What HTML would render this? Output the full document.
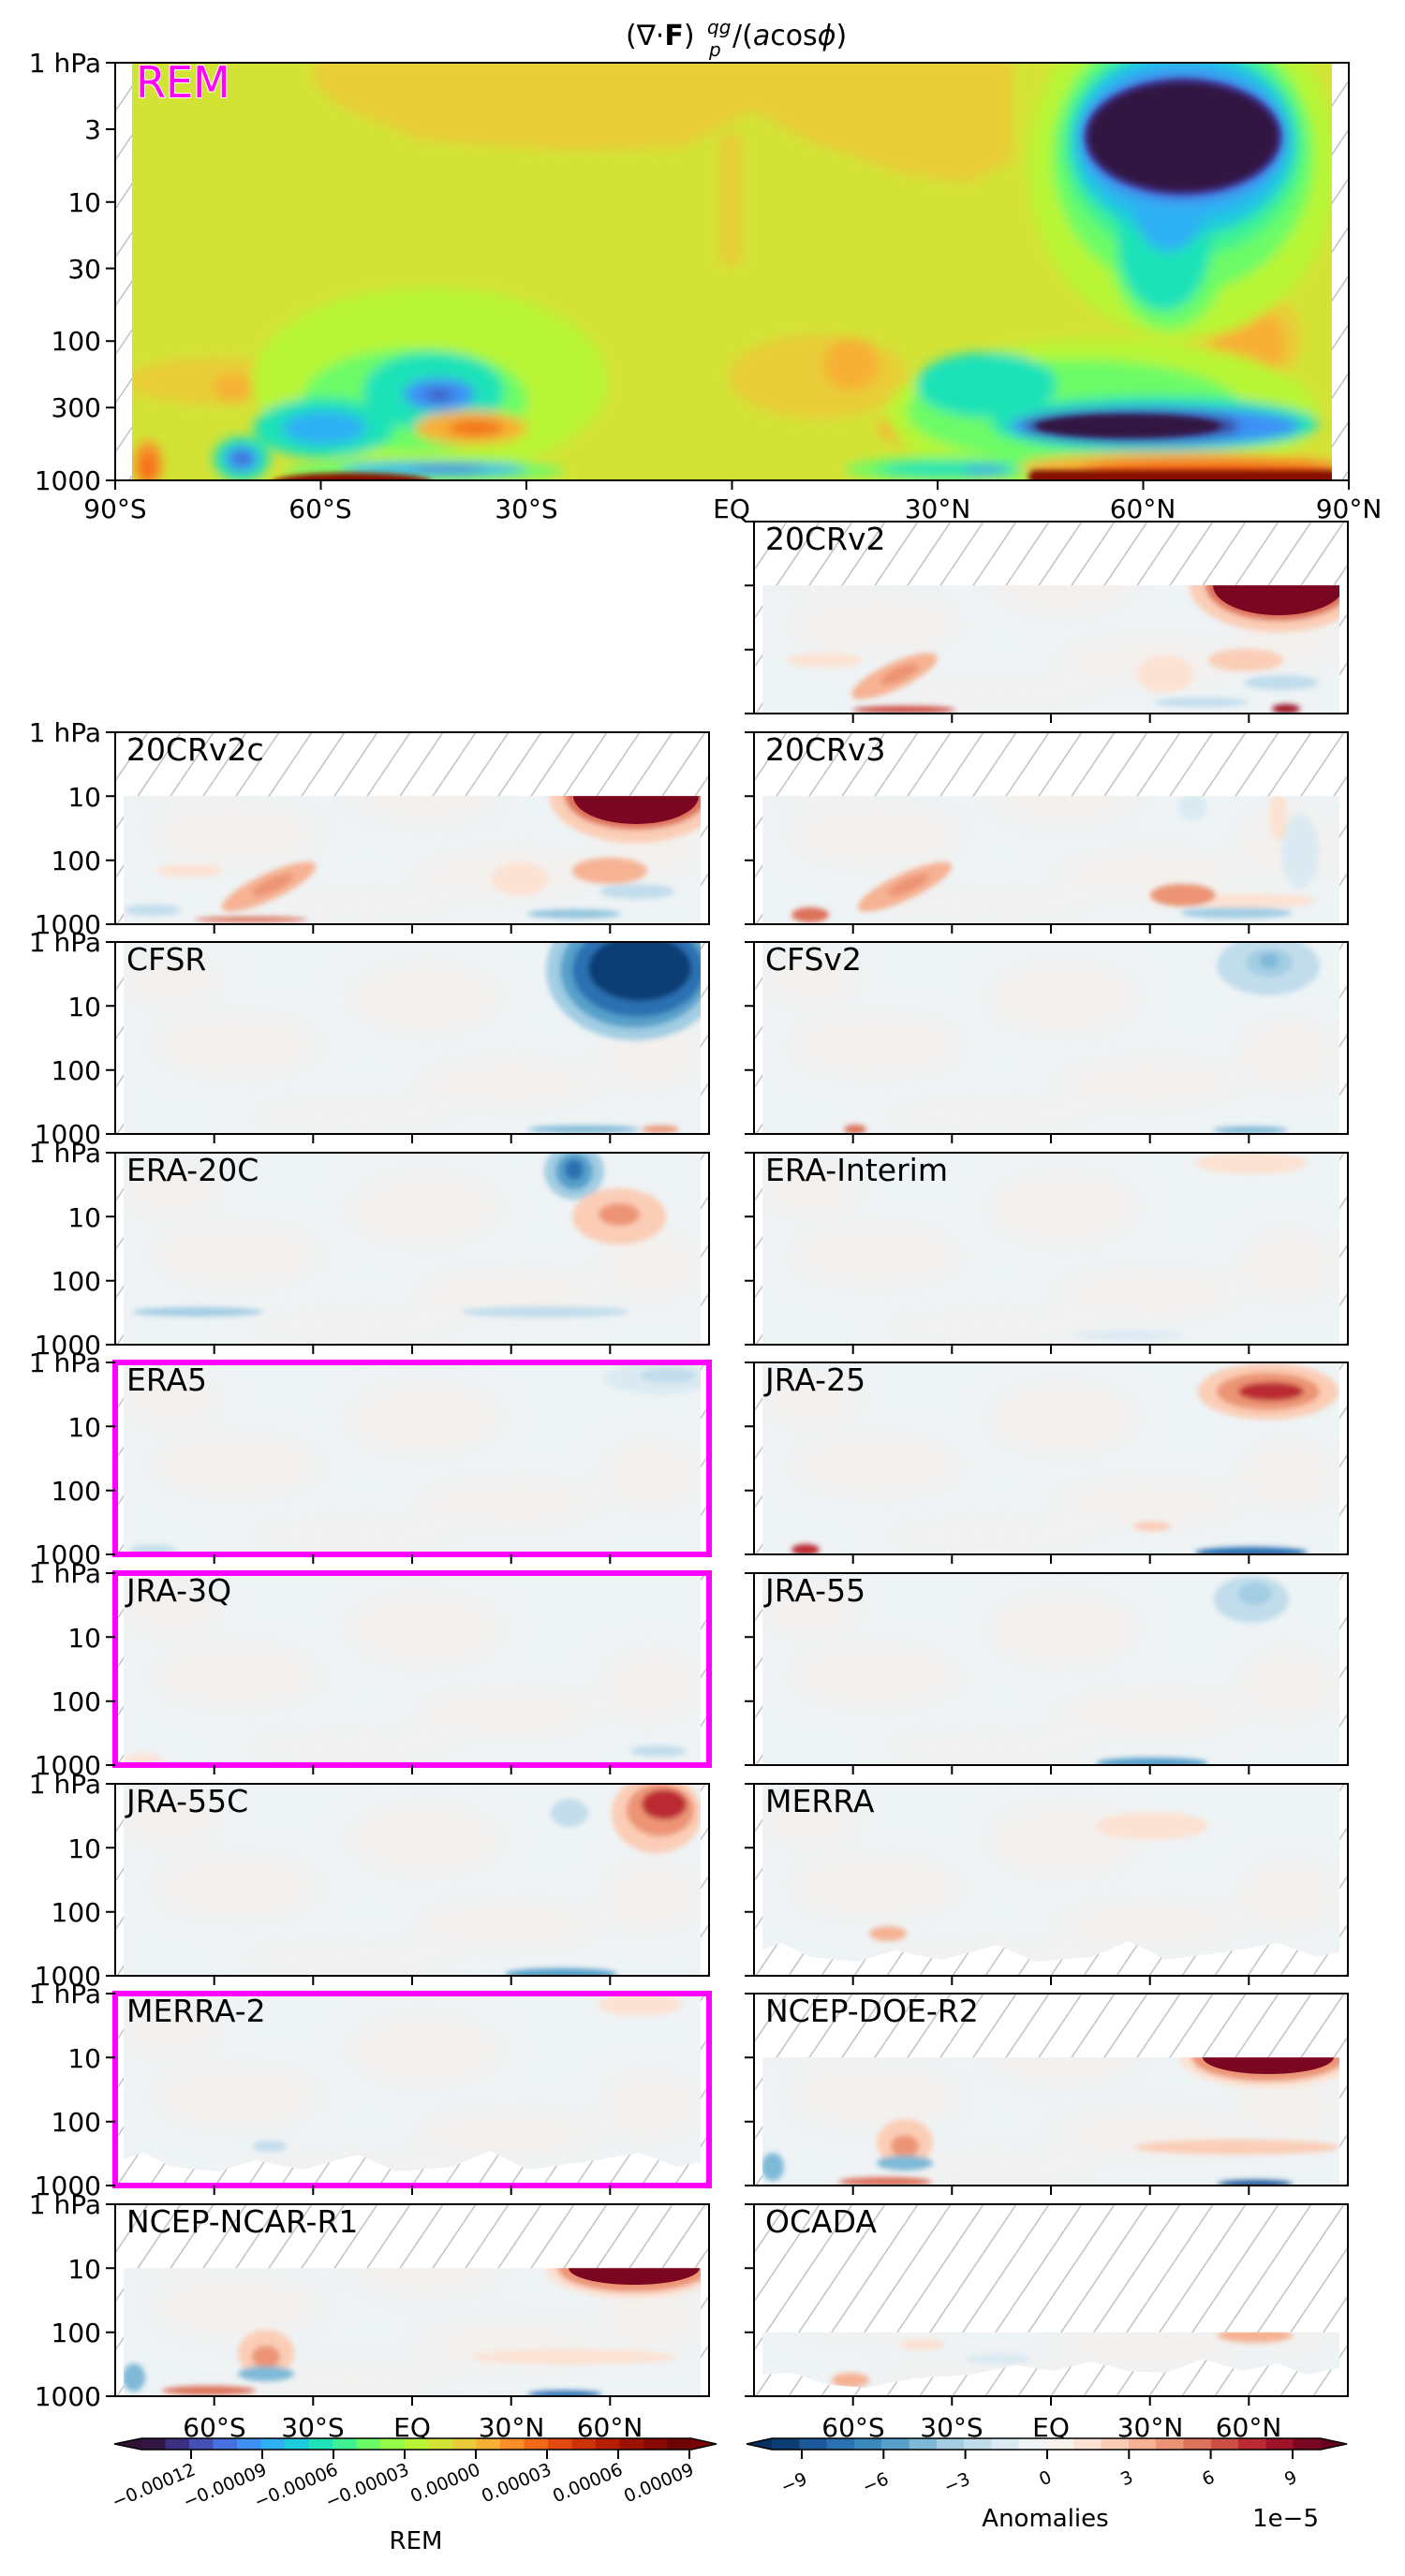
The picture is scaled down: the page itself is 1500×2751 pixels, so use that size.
<!DOCTYPE html>
<html><head><meta charset="utf-8"><style>
html,body{margin:0;padding:0;background:#fff;width:1500px;height:2751px;overflow:hidden}
svg text{font-family:"DejaVu Sans","Liberation Sans",sans-serif;fill:#000}
</style></head><body>
<svg width="1500" height="2751" viewBox="0 0 1500 2751" xmlns="http://www.w3.org/2000/svg">
<defs>
<pattern id="h" patternUnits="userSpaceOnUse" width="35" height="52"><rect width="35" height="52" fill="#fff"/><path d="M0 52L35 0M-35 52L0 0M35 52L70 0" stroke="#c4c4c4" stroke-width="1.6"/></pattern>
<filter id="f" x="-30%" y="-30%" width="160%" height="160%"><feGaussianBlur stdDeviation="3"/></filter>
<filter id="t" x="-30%" y="-30%" width="160%" height="160%"><feGaussianBlur stdDeviation="6"/></filter>
<filter id="g" x="-30%" y="-30%" width="160%" height="160%"><feGaussianBlur stdDeviation="14"/></filter>
<clipPath id="c1"><rect x="9" y="0" width="616" height="205"/></clipPath>
<clipPath id="c10"><rect x="9" y="68.3" width="616" height="137"/></clipPath>
<clipPath id="coc"><polygon points="9,136.7 625,136.7 625,175 590,182 560,170 520,178 480,165 440,180 400,178 360,168 320,178 280,172 230,182 170,186 120,196 80,193 40,180 9,182"/></clipPath>
<clipPath id="ctop"><rect x="18" y="0" width="1281" height="446"/></clipPath>
<g id="pk" filter="url(#g)" fill="#f6efea" opacity="0.8">
<ellipse cx="130" cy="110" rx="90" ry="30"/><ellipse cx="330" cy="60" rx="80" ry="35"/><ellipse cx="420" cy="150" rx="100" ry="22"/><ellipse cx="250" cy="185" rx="120" ry="10"/><ellipse cx="570" cy="120" rx="50" ry="35"/><ellipse cx="60" cy="40" rx="50" ry="25"/>
</g>
<path id="tk" d="M0 0h-10M0 68.3h-10M0 136.7h-10M0 205h-10M105.7 205v10M211.3 205v10M317 205v10M422.7 205v10M528.3 205v10" stroke="#000" stroke-width="2" fill="none"/>
<polygon id="jag" points="0,205 0,180 30,170 60,185 110,190 150,178 200,188 260,172 300,190 360,185 400,168 440,188 500,180 560,170 600,185 634,178 634,205" fill="url(#h)"/>
</defs>

<!-- Title -->
<text x="668" y="48" font-size="30">(∇·<tspan font-weight="bold">F</tspan>)</text>
<text x="755" y="36" font-size="20" font-style="italic">qg</text>
<text x="757" y="60" font-size="20" font-style="italic">p</text>
<text x="782" y="48" font-size="30">/(<tspan font-style="italic">a</tspan>cos<tspan font-style="italic">ϕ</tspan>)</text>

<!-- TOP PANEL -->
<g transform="translate(123,67)">
<svg width="1317" height="446" overflow="hidden">
<rect width="1317" height="446" fill="url(#h)"/>
<g clip-path="url(#ctop)">
<rect x="18" y="0" width="1281" height="446" fill="#d3e336"/>
<g filter="url(#t)">
<polygon points="212,-5 958,-5 958,104 910,129 843,119 738,83 681,51 633,76 604,90 489,94 327,83 241,47 212,22" fill="#e9cd38"/>
<rect x="645" y="76" width="24" height="140" fill="#e9cd38"/>
<ellipse cx="1207" cy="294" rx="60" ry="55" fill="#e9cd38"/>
<ellipse cx="1210" cy="300" rx="40" ry="40" fill="#f7b034"/>
<ellipse cx="750" cy="335" rx="95" ry="45" fill="#e9cd38"/>
<ellipse cx="786" cy="322" rx="30" ry="28" fill="#f7b034"/>
<ellipse cx="110" cy="340" rx="100" ry="25" fill="#e9cd38"/>
<ellipse cx="126" cy="347" rx="20" ry="15" fill="#f7b034"/>
<ellipse cx="336" cy="340" rx="190" ry="100" fill="#b8f535"/>
<ellipse cx="320" cy="360" rx="120" ry="55" fill="#6cfb66"/>
<ellipse cx="340" cy="351" rx="75" ry="42" fill="#1fe2b8"/>
<ellipse cx="346" cy="354" rx="38" ry="17" fill="#3e90f8"/>
<ellipse cx="346" cy="355" rx="15" ry="6" fill="#4450b3"/>
<ellipse cx="223" cy="390" rx="75" ry="32" fill="#1fe2b8"/>
<ellipse cx="223" cy="390" rx="45" ry="18" fill="#2db0f4"/>
<ellipse cx="380" cy="390" rx="60" ry="18" fill="#f7b034"/>
<ellipse cx="385" cy="390" rx="30" ry="8" fill="#f36a19"/>
<ellipse cx="855" cy="390" rx="40" ry="18" fill="#f7b034"/>
<ellipse cx="1054" cy="375" rx="230" ry="80" fill="#b8f535"/>
<ellipse cx="1025" cy="372" rx="180" ry="55" fill="#6cfb66"/>
<ellipse cx="930" cy="344" rx="75" ry="35" fill="#1fe2b8"/>
<ellipse cx="1110" cy="386" rx="175" ry="30" fill="#1fe2b8"/>
<ellipse cx="1110" cy="388" rx="155" ry="21" fill="#3e90f8"/>
<ellipse cx="1085" cy="388" rx="115" ry="16" fill="#3b2f80"/>
<ellipse cx="890" cy="434" rx="110" ry="14" fill="#6cfb66"/>
<ellipse cx="890" cy="434" rx="75" ry="8" fill="#1fe2b8"/>
<ellipse cx="930" cy="435" rx="25" ry="4" fill="#3e90f8"/>
<ellipse cx="330" cy="436" rx="150" ry="12" fill="#6cfb66"/>
<ellipse cx="340" cy="434" rx="100" ry="7" fill="#2db0f4"/>
<ellipse cx="355" cy="434" rx="40" ry="4" fill="#4770df"/>
<ellipse cx="135" cy="423" rx="30" ry="24" fill="#1fe2b8"/>
<ellipse cx="135" cy="423" rx="18" ry="14" fill="#3e90f8"/>
<ellipse cx="135" cy="423" rx="8" ry="5" fill="#4450b3"/>
<ellipse cx="1140" cy="432" rx="175" ry="16" fill="#f7b034"/>
<ellipse cx="1170" cy="435" rx="140" ry="11" fill="#f36a19"/>
<ellipse cx="35" cy="429" rx="15" ry="25" fill="#fb8e27"/>
<ellipse cx="35" cy="432" rx="8" ry="14" fill="#f36a19"/>
<ellipse cx="1140" cy="110" rx="165" ry="185" fill="#b8f535"/>
<ellipse cx="1140" cy="100" rx="140" ry="145" fill="#6cfb66"/>
<ellipse cx="1125" cy="190" rx="65" ry="95" fill="#6cfb66"/>
<ellipse cx="1140" cy="90" rx="128" ry="118" fill="#3ef192"/>
<ellipse cx="1120" cy="190" rx="50" ry="75" fill="#1fe2b8"/>
<ellipse cx="1140" cy="85" rx="120" ry="100" fill="#1dcbdc"/>
<ellipse cx="1140" cy="82" rx="112" ry="85" fill="#2db0f4"/>
<ellipse cx="1125" cy="150" rx="38" ry="52" fill="#2db0f4"/>
<ellipse cx="1140" cy="80" rx="108" ry="68" fill="#4770df"/>
</g>
<g filter="url(#f)">
<ellipse cx="1140" cy="79" rx="105" ry="62" fill="#3b2f80"/>
<ellipse cx="1140" cy="79" rx="100" ry="57" fill="#311542"/>
<ellipse cx="1081" cy="388" rx="98" ry="12" fill="#311542"/>
<rect x="975" y="435" width="330" height="15" rx="8" fill="#860902"/>
<ellipse cx="253" cy="448" rx="85" ry="10" fill="#860902"/>
</g>
</g>
</svg>
<rect width="1317" height="446" fill="none" stroke="#000" stroke-width="2"/>
<path d="M0 0h-10M0 71h-10M0 148.7h-10M0 219.6h-10M0 297.3h-10M0 368.3h-10M0 446h-10M0 446v10M219.5 446v10M439 446v10M658.5 446v10M878 446v10M1097.5 446v10M1317 446v10" stroke="#000" stroke-width="2"/>
<text x="22" y="37" font-size="46" stroke="#fff" stroke-width="2" paint-order="stroke" style="fill:#ff00ff">REM</text>
</g>
<g font-size="28" text-anchor="end">
<text x="108" y="77">1 hPa</text><text x="108" y="148">3</text><text x="108" y="226">10</text><text x="108" y="297">30</text><text x="108" y="374">100</text><text x="108" y="445">300</text><text x="108" y="523">1000</text>
</g>
<g font-size="28" text-anchor="middle">
<text x="123" y="553">90°S</text><text x="342" y="553">60°S</text><text x="562" y="553">30°S</text><text x="781" y="553">EQ</text><text x="1001" y="553">30°N</text><text x="1220" y="553">60°N</text><text x="1440" y="553">90°N</text>
</g>

<!-- ROW 0 right: 20CRv2 -->
<g transform="translate(805,557)">
<svg width="634" height="205" overflow="hidden"><rect width="634" height="205" fill="url(#h)"/>
<g clip-path="url(#c10)"><rect width="634" height="205" fill="#eef3f5"/><use href="#pk"/>
<g filter="url(#f)">
<ellipse cx="560" cy="68" rx="95" ry="50" fill="#fbcdb6"/><ellipse cx="560" cy="68" rx="78" ry="38" fill="#dd715a"/>
<ellipse cx="150" cy="165" rx="50" ry="14" fill="#f6b293" transform="rotate(-25 150 165)"/><ellipse cx="155" cy="163" rx="22" ry="7" fill="#ec9475" transform="rotate(-25 155 163)"/>
<ellipse cx="525" cy="148" rx="40" ry="12" fill="#fbcdb6"/><ellipse cx="439" cy="163" rx="30" ry="20" fill="#fce2d3"/>
<ellipse cx="563" cy="172" rx="40" ry="8" fill="#c1ddec"/><ellipse cx="75" cy="148" rx="40" ry="8" fill="#fce2d3"/>
<ellipse cx="477" cy="193" rx="50" ry="5" fill="#c1ddec"/><ellipse cx="160" cy="201" rx="55" ry="4" fill="#cd4e44"/>
<ellipse cx="568" cy="200" rx="15" ry="5" fill="#9f1228"/>
</g>
<ellipse cx="560" cy="68" rx="70" ry="32" fill="#7a0622"/>
</g></svg>
<rect width="634" height="205" fill="none" stroke="#000" stroke-width="2"/><use href="#tk"/>
<text x="12" y="30" font-size="33">20CRv2</text></g>

<!-- ROW 1 -->
<g transform="translate(123,782)">
<svg width="634" height="205" overflow="hidden"><rect width="634" height="205" fill="url(#h)"/>
<g clip-path="url(#c10)"><rect width="634" height="205" fill="#eef3f5"/><use href="#pk"/>
<g filter="url(#f)">
<ellipse cx="556" cy="68" rx="92" ry="50" fill="#fbcdb6"/><ellipse cx="556" cy="68" rx="76" ry="36" fill="#dd715a"/>
<ellipse cx="164" cy="165" rx="55" ry="14" fill="#f6b293" transform="rotate(-25 164 165)"/><ellipse cx="168" cy="163" rx="24" ry="7" fill="#ec9475" transform="rotate(-25 168 163)"/>
<ellipse cx="528" cy="148" rx="40" ry="14" fill="#f6b293"/><ellipse cx="432" cy="157" rx="30" ry="18" fill="#fce2d3"/>
<ellipse cx="557" cy="170" rx="40" ry="8" fill="#c1ddec"/><ellipse cx="490" cy="194" rx="50" ry="5" fill="#92c5de"/>
<ellipse cx="145" cy="200" rx="60" ry="3" fill="#dd715a"/><ellipse cx="80" cy="148" rx="35" ry="7" fill="#fce2d3"/>
<ellipse cx="40" cy="190" rx="30" ry="6" fill="#c1ddec"/>
</g>
<ellipse cx="556" cy="68" rx="67" ry="30" fill="#7a0622"/>
</g></svg>
<rect width="634" height="205" fill="none" stroke="#000" stroke-width="2"/><use href="#tk"/>
<text x="12" y="30" font-size="33">20CRv2c</text></g>

<g transform="translate(805,782)">
<svg width="634" height="205" overflow="hidden"><rect width="634" height="205" fill="url(#h)"/>
<g clip-path="url(#c10)"><rect width="634" height="205" fill="#eef3f5"/><use href="#pk"/>
<g filter="url(#f)">
<ellipse cx="161" cy="165" rx="55" ry="14" fill="#f6b293" transform="rotate(-25 161 165)"/><ellipse cx="165" cy="163" rx="24" ry="7" fill="#ec9475" transform="rotate(-25 165 163)"/>
<ellipse cx="530" cy="180" rx="70" ry="8" fill="#fce2d3"/><ellipse cx="458" cy="174" rx="35" ry="12" fill="#ec9475"/>
<ellipse cx="515" cy="193" rx="60" ry="6" fill="#a2cde3"/><ellipse cx="583" cy="127" rx="20" ry="40" fill="#dbeaf2"/>
<ellipse cx="468" cy="80" rx="15" ry="15" fill="#dbeaf2"/><ellipse cx="560" cy="90" rx="10" ry="25" fill="#fce2d3"/>
<ellipse cx="60" cy="195" rx="20" ry="8" fill="#dd715a"/>
</g></g></svg>
<rect width="634" height="205" fill="none" stroke="#000" stroke-width="2"/><use href="#tk"/>
<text x="12" y="30" font-size="33">20CRv3</text></g>

<!-- ROW 2 -->
<g transform="translate(123,1006)">
<svg width="634" height="205" overflow="hidden"><rect width="634" height="205" fill="url(#h)"/>
<g clip-path="url(#c1)"><rect width="634" height="205" fill="#eef3f5"/><use href="#pk"/>
<g filter="url(#f)">
<ellipse cx="555" cy="30" rx="95" ry="75" fill="#a2cde3"/><ellipse cx="555" cy="30" rx="80" ry="62" fill="#57a0ca"/>
<ellipse cx="558" cy="30" rx="70" ry="50" fill="#2a71b2"/><ellipse cx="560" cy="28" rx="55" ry="35" fill="#0c3d74"/>
<ellipse cx="500" cy="200" rx="60" ry="4" fill="#7eb9d7"/><ellipse cx="582" cy="200" rx="20" ry="4" fill="#ec9475"/>
</g></g></svg>
<rect width="634" height="205" fill="none" stroke="#000" stroke-width="2"/><use href="#tk"/>
<text x="12" y="30" font-size="33">CFSR</text></g>

<g transform="translate(805,1006)">
<svg width="634" height="205" overflow="hidden"><rect width="634" height="205" fill="url(#h)"/>
<g clip-path="url(#c1)"><rect width="634" height="205" fill="#eef3f5"/><use href="#pk"/>
<g filter="url(#f)">
<ellipse cx="549" cy="25" rx="55" ry="32" fill="#c1ddec"/><ellipse cx="550" cy="22" rx="25" ry="15" fill="#a2cde3"/><ellipse cx="550" cy="20" rx="10" ry="8" fill="#7eb9d7"/>
<ellipse cx="530" cy="201" rx="40" ry="4" fill="#7eb9d7"/><ellipse cx="108" cy="200" rx="12" ry="5" fill="#dd715a"/>
</g></g></svg>
<rect width="634" height="205" fill="none" stroke="#000" stroke-width="2"/><use href="#tk"/>
<text x="12" y="30" font-size="33">CFSv2</text></g>

<!-- ROW 3 -->
<g transform="translate(123,1231)">
<svg width="634" height="205" overflow="hidden"><rect width="634" height="205" fill="url(#h)"/>
<g clip-path="url(#c1)"><rect width="634" height="205" fill="#eef3f5"/><use href="#pk"/>
<g filter="url(#f)">
<ellipse cx="490" cy="20" rx="32" ry="30" fill="#a2cde3"/><ellipse cx="490" cy="20" rx="20" ry="20" fill="#57a0ca"/><ellipse cx="490" cy="18" rx="10" ry="11" fill="#2a71b2"/>
<ellipse cx="538" cy="68" rx="50" ry="30" fill="#fbcdb6"/><ellipse cx="538" cy="66" rx="22" ry="12" fill="#ec9475"/>
<ellipse cx="459" cy="170" rx="90" ry="6" fill="#c1ddec"/><ellipse cx="88" cy="170" rx="70" ry="5" fill="#a2cde3"/>
</g></g></svg>
<rect width="634" height="205" fill="none" stroke="#000" stroke-width="2"/><use href="#tk"/>
<text x="12" y="30" font-size="33">ERA-20C</text></g>

<g transform="translate(805,1231)">
<svg width="634" height="205" overflow="hidden"><rect width="634" height="205" fill="url(#h)"/>
<g clip-path="url(#c1)"><rect width="634" height="205" fill="#eef3f5"/><use href="#pk"/>
<g filter="url(#f)"><ellipse cx="531" cy="11" rx="60" ry="12" fill="#fce2d3"/><ellipse cx="400" cy="195" rx="60" ry="5" fill="#dbeaf2"/></g>
</g></svg>
<rect width="634" height="205" fill="none" stroke="#000" stroke-width="2"/><use href="#tk"/>
<text x="12" y="30" font-size="33">ERA-Interim</text></g>

<!-- ROW 4 -->
<g transform="translate(123,1455)">
<svg width="634" height="205" overflow="hidden"><rect width="634" height="205" fill="url(#h)"/>
<g clip-path="url(#c1)"><rect width="634" height="205" fill="#eef3f5"/><use href="#pk"/>
<g filter="url(#f)"><ellipse cx="582" cy="17" rx="60" ry="17" fill="#dbeaf2"/><ellipse cx="590" cy="14" rx="30" ry="8" fill="#c1ddec"/><ellipse cx="40" cy="200" rx="25" ry="5" fill="#c1ddec"/></g>
</g></svg>
<rect width="634" height="205" fill="none" stroke="#ff00ff" stroke-width="6"/><use href="#tk"/>
<text x="12" y="30" font-size="33">ERA5</text></g>

<g transform="translate(805,1455)">
<svg width="634" height="205" overflow="hidden"><rect width="634" height="205" fill="url(#h)"/>
<g clip-path="url(#c1)"><rect width="634" height="205" fill="#eef3f5"/><use href="#pk"/>
<g filter="url(#f)">
<ellipse cx="549" cy="31" rx="75" ry="30" fill="#fbcdb6"/><ellipse cx="549" cy="31" rx="55" ry="20" fill="#ec9475"/><ellipse cx="552" cy="31" rx="35" ry="10" fill="#bb2a33"/>
<ellipse cx="531" cy="203" rx="60" ry="6" fill="#2a71b2"/><ellipse cx="55" cy="200" rx="15" ry="6" fill="#bb2a33"/><ellipse cx="425" cy="175" rx="20" ry="5" fill="#fbcdb6"/>
</g></g></svg>
<rect width="634" height="205" fill="none" stroke="#000" stroke-width="2"/><use href="#tk"/>
<text x="12" y="30" font-size="33">JRA-25</text></g>

<!-- ROW 5 -->
<g transform="translate(123,1680)">
<svg width="634" height="205" overflow="hidden"><rect width="634" height="205" fill="url(#h)"/>
<g clip-path="url(#c1)"><rect width="634" height="205" fill="#eef3f5"/><use href="#pk"/>
<g filter="url(#f)"><ellipse cx="580" cy="190" rx="30" ry="6" fill="#c1ddec"/><ellipse cx="30" cy="198" rx="20" ry="5" fill="#fce2d3"/></g>
</g></svg>
<rect width="634" height="205" fill="none" stroke="#ff00ff" stroke-width="6"/><use href="#tk"/>
<text x="12" y="30" font-size="33">JRA-3Q</text></g>

<g transform="translate(805,1680)">
<svg width="634" height="205" overflow="hidden"><rect width="634" height="205" fill="url(#h)"/>
<g clip-path="url(#c1)"><rect width="634" height="205" fill="#eef3f5"/><use href="#pk"/>
<g filter="url(#f)"><ellipse cx="531" cy="28" rx="40" ry="25" fill="#c1ddec"/><ellipse cx="535" cy="22" rx="18" ry="12" fill="#a2cde3"/><ellipse cx="425" cy="203" rx="60" ry="6" fill="#57a0ca"/></g>
</g></svg>
<rect width="634" height="205" fill="none" stroke="#000" stroke-width="2"/><use href="#tk"/>
<text x="12" y="30" font-size="33">JRA-55</text></g>

<!-- ROW 6 -->
<g transform="translate(123,1905)">
<svg width="634" height="205" overflow="hidden"><rect width="634" height="205" fill="url(#h)"/>
<g clip-path="url(#c1)"><rect width="634" height="205" fill="#eef3f5"/><use href="#pk"/>
<g filter="url(#f)">
<ellipse cx="578" cy="32" rx="48" ry="42" fill="#fbcdb6"/><ellipse cx="582" cy="28" rx="36" ry="28" fill="#ec9475"/><ellipse cx="586" cy="22" rx="24" ry="16" fill="#bb2a33"/>
<ellipse cx="485" cy="31" rx="20" ry="15" fill="#c1ddec"/><ellipse cx="476" cy="203" rx="60" ry="6" fill="#57a0ca"/>
</g></g></svg>
<rect width="634" height="205" fill="none" stroke="#000" stroke-width="2"/><use href="#tk"/>
<text x="12" y="30" font-size="33">JRA-55C</text></g>

<g transform="translate(805,1905)">
<svg width="634" height="205" overflow="hidden"><rect width="634" height="205" fill="url(#h)"/>
<g clip-path="url(#c1)"><rect width="634" height="205" fill="#eef3f5"/><use href="#pk"/>
<g filter="url(#f)"><ellipse cx="425" cy="45" rx="60" ry="15" fill="#fce2d3"/><ellipse cx="143" cy="160" rx="20" ry="8" fill="#f6b293"/><ellipse cx="560" cy="195" rx="15" ry="5" fill="#dd715a"/></g>
</g><use href="#jag"/></svg>
<rect width="634" height="205" fill="none" stroke="#000" stroke-width="2"/><use href="#tk"/>
<text x="12" y="30" font-size="33">MERRA</text></g>

<!-- ROW 7 -->
<g transform="translate(123,2129)">
<svg width="634" height="205" overflow="hidden"><rect width="634" height="205" fill="url(#h)"/>
<g clip-path="url(#c1)"><rect width="634" height="205" fill="#eef3f5"/><use href="#pk"/>
<g filter="url(#f)"><ellipse cx="560" cy="12" rx="45" ry="12" fill="#fce2d3"/><ellipse cx="165" cy="163" rx="18" ry="6" fill="#c1ddec"/></g>
</g><use href="#jag"/></svg>
<rect width="634" height="205" fill="none" stroke="#ff00ff" stroke-width="6"/><use href="#tk"/>
<text x="12" y="30" font-size="33">MERRA-2</text></g>

<g transform="translate(805,2129)">
<svg width="634" height="205" overflow="hidden"><rect width="634" height="205" fill="url(#h)"/>
<g clip-path="url(#c10)"><rect width="634" height="205" fill="#eef3f5"/><use href="#pk"/>
<g filter="url(#f)">
<ellipse cx="549" cy="68" rx="95" ry="33" fill="#fce2d3"/><ellipse cx="549" cy="68" rx="82" ry="26" fill="#ec9475"/>
<ellipse cx="161" cy="159" rx="30" ry="25" fill="#fbcdb6"/><ellipse cx="161" cy="163" rx="15" ry="12" fill="#ec9475"/>
<ellipse cx="161" cy="181" rx="30" ry="8" fill="#7eb9d7"/><ellipse cx="516" cy="164" rx="110" ry="8" fill="#fbcdb6"/>
<ellipse cx="140" cy="201" rx="50" ry="5" fill="#dd715a"/><ellipse cx="535" cy="203" rx="40" ry="4" fill="#1a5899"/>
<ellipse cx="20" cy="185" rx="12" ry="15" fill="#7eb9d7"/>
</g>
<ellipse cx="549" cy="68" rx="70" ry="18" fill="#7a0622"/>
</g></svg>
<rect width="634" height="205" fill="none" stroke="#000" stroke-width="2"/><use href="#tk"/>
<text x="12" y="30" font-size="33">NCEP-DOE-R2</text></g>

<!-- ROW 8 -->
<g transform="translate(123,2354)">
<svg width="634" height="205" overflow="hidden"><rect width="634" height="205" fill="url(#h)"/>
<g clip-path="url(#c10)"><rect width="634" height="205" fill="#eef3f5"/><use href="#pk"/>
<g filter="url(#f)">
<ellipse cx="554" cy="68" rx="95" ry="33" fill="#fce2d3"/><ellipse cx="554" cy="68" rx="82" ry="26" fill="#ec9475"/>
<ellipse cx="161" cy="159" rx="30" ry="25" fill="#fbcdb6"/><ellipse cx="161" cy="163" rx="15" ry="12" fill="#ec9475"/>
<ellipse cx="161" cy="181" rx="30" ry="8" fill="#7eb9d7"/><ellipse cx="490" cy="163" rx="110" ry="8" fill="#fce2d3"/>
<ellipse cx="100" cy="199" rx="50" ry="5" fill="#dd715a"/><ellipse cx="480" cy="203" rx="40" ry="4" fill="#2a71b2"/>
<ellipse cx="20" cy="185" rx="12" ry="15" fill="#7eb9d7"/>
</g>
<ellipse cx="554" cy="68" rx="70" ry="18" fill="#7a0622"/>
</g></svg>
<rect width="634" height="205" fill="none" stroke="#000" stroke-width="2"/><use href="#tk"/>
<text x="12" y="30" font-size="33">NCEP-NCAR-R1</text></g>

<g transform="translate(805,2354)">
<svg width="634" height="205" overflow="hidden"><rect width="634" height="205" fill="url(#h)"/>
<g clip-path="url(#coc)"><rect width="634" height="205" fill="#eef3f5"/><use href="#pk"/>
<g filter="url(#f)"><ellipse cx="535" cy="140" rx="40" ry="8" fill="#f6b293"/><ellipse cx="103" cy="188" rx="20" ry="8" fill="#f6b293"/><ellipse cx="180" cy="150" rx="25" ry="6" fill="#fce2d3"/><ellipse cx="260" cy="165" rx="35" ry="6" fill="#dbeaf2"/></g>
</g></svg>
<rect width="634" height="205" fill="none" stroke="#000" stroke-width="2"/><use href="#tk"/>
<text x="12" y="30" font-size="33">OCADA</text></g>

<!-- left y labels -->
<g font-size="28" text-anchor="end">
<text x="108" y="792">1 hPa</text><text x="108" y="861">10</text><text x="108" y="929">100</text><text x="108" y="997">1000</text>
<text x="108" y="1016">1 hPa</text><text x="108" y="1085">10</text><text x="108" y="1153">100</text><text x="108" y="1221">1000</text>
<text x="108" y="1241">1 hPa</text><text x="108" y="1310">10</text><text x="108" y="1378">100</text><text x="108" y="1446">1000</text>
<text x="108" y="1465">1 hPa</text><text x="108" y="1534">10</text><text x="108" y="1602">100</text><text x="108" y="1670">1000</text>
<text x="108" y="1690">1 hPa</text><text x="108" y="1759">10</text><text x="108" y="1827">100</text><text x="108" y="1895">1000</text>
<text x="108" y="1915">1 hPa</text><text x="108" y="1984">10</text><text x="108" y="2052">100</text><text x="108" y="2120">1000</text>
<text x="108" y="2139">1 hPa</text><text x="108" y="2208">10</text><text x="108" y="2276">100</text><text x="108" y="2344">1000</text>
<text x="108" y="2364">1 hPa</text><text x="108" y="2433">10</text><text x="108" y="2501">100</text><text x="108" y="2569">1000</text>
</g>
<!-- bottom x labels -->
<g font-size="28" text-anchor="middle">
<text x="229" y="2602">60°S</text><text x="334" y="2602">30°S</text><text x="440" y="2602">EQ</text><text x="546" y="2602">30°N</text><text x="651" y="2602">60°N</text>
<text x="911" y="2602">60°S</text><text x="1016" y="2602">30°S</text><text x="1122" y="2602">EQ</text><text x="1228" y="2602">30°N</text><text x="1333" y="2602">60°N</text>
</g>

<!-- Left colorbar -->
<g transform="translate(151,2604)">
<polygon points="0,0 -29,6 0,12" fill="#30123b"/>
<polygon points="587,0 614,6 587,12" fill="#7a0403"/>
<g shape-rendering="crispEdges">
<rect x="0" width="25.6" height="12" fill="#311542"/><rect x="25.5" width="25.6" height="12" fill="#3b2f80"/><rect x="51" width="25.6" height="12" fill="#4450b3"/><rect x="76.6" width="25.6" height="12" fill="#4770df"/><rect x="102.1" width="25.6" height="12" fill="#3e90f8"/><rect x="127.6" width="25.6" height="12" fill="#2db0f4"/><rect x="153.1" width="25.6" height="12" fill="#1dcbdc"/><rect x="178.7" width="25.6" height="12" fill="#1fe2b8"/><rect x="204.2" width="25.6" height="12" fill="#3ef192"/><rect x="229.7" width="25.6" height="12" fill="#6cfb66"/><rect x="255.2" width="25.6" height="12" fill="#96fe48"/><rect x="280.8" width="25.6" height="12" fill="#b8f535"/><rect x="306.3" width="25.6" height="12" fill="#d3e336"/><rect x="331.8" width="25.6" height="12" fill="#e9cd38"/><rect x="357.3" width="25.6" height="12" fill="#f7b034"/><rect x="382.9" width="25.6" height="12" fill="#fb8e27"/><rect x="408.4" width="25.6" height="12" fill="#f36a19"/><rect x="433.9" width="25.6" height="12" fill="#e24a0d"/><rect x="459.4" width="25.6" height="12" fill="#cd3106"/><rect x="485" width="25.6" height="12" fill="#b51e02"/><rect x="510.5" width="25.6" height="12" fill="#9d1101"/><rect x="536" width="25.6" height="12" fill="#860902"/><rect x="561.5" width="25.5" height="12" fill="#6c0403"/>
</g>
<polygon points="0,0 -29,6 0,12 587,12 614,6 587,0" fill="none" stroke="#000" stroke-width="1.5"/>
<path d="M53 12v10M129 12v10M205 12v10M281 12v10M357 12v10M433 12v10M509 12v10M585 12v10" stroke="#000" stroke-width="2"/>
</g>
<g font-size="19" text-anchor="end">
<text transform="translate(210,2642) rotate(-23)">−0.00012</text>
<text transform="translate(286,2642) rotate(-23)">−0.00009</text>
<text transform="translate(362,2642) rotate(-23)">−0.00006</text>
<text transform="translate(438,2642) rotate(-23)">−0.00003</text>
<text transform="translate(514,2642) rotate(-23)">0.00000</text>
<text transform="translate(590,2642) rotate(-23)">0.00003</text>
<text transform="translate(666,2642) rotate(-23)">0.00006</text>
<text transform="translate(742,2642) rotate(-23)">0.00009</text>
</g>
<text x="444" y="2722" font-size="26" text-anchor="middle">REM</text>

<!-- Right colorbar -->
<g transform="translate(824,2604)">
<polygon points="0,0 -27,6 0,12" fill="#053061"/>
<polygon points="586,0 614,6 586,12" fill="#67001f"/>
<g shape-rendering="crispEdges">
<rect x="0" width="29.4" height="12" fill="#0c3d74"/><rect x="29.3" width="29.4" height="12" fill="#1a5899"/><rect x="58.6" width="29.4" height="12" fill="#2a71b2"/><rect x="87.9" width="29.4" height="12" fill="#3b88bd"/><rect x="117.2" width="29.4" height="12" fill="#57a0ca"/><rect x="146.5" width="29.4" height="12" fill="#7eb9d7"/><rect x="175.8" width="29.4" height="12" fill="#a2cde3"/><rect x="205.1" width="29.4" height="12" fill="#c1ddec"/><rect x="234.4" width="29.4" height="12" fill="#dbeaf2"/><rect x="263.7" width="29.4" height="12" fill="#eef3f5"/><rect x="293" width="29.4" height="12" fill="#f8f0eb"/><rect x="322.3" width="29.4" height="12" fill="#fce2d3"/><rect x="351.6" width="29.4" height="12" fill="#fbcdb6"/><rect x="380.9" width="29.4" height="12" fill="#f6b293"/><rect x="410.2" width="29.4" height="12" fill="#ec9475"/><rect x="439.5" width="29.4" height="12" fill="#dd715a"/><rect x="468.8" width="29.4" height="12" fill="#cd4e44"/><rect x="498.1" width="29.4" height="12" fill="#bb2a33"/><rect x="527.4" width="29.4" height="12" fill="#9f1228"/><rect x="556.7" width="29.3" height="12" fill="#7a0622"/>
</g>
<polygon points="0,0 -27,6 0,12 586,12 614,6 586,0" fill="none" stroke="#000" stroke-width="1.5"/>
<path d="M32 12v10M119.3 12v10M206.6 12v10M294 12v10M381.3 12v10M468.6 12v10M556 12v10" stroke="#000" stroke-width="2"/>
</g>
<g font-size="19" text-anchor="end">
<text transform="translate(863,2652) rotate(-23)">−9</text>
<text transform="translate(950,2652) rotate(-23)">−6</text>
<text transform="translate(1037,2652) rotate(-23)">−3</text>
<text transform="translate(1124,2650) rotate(-23)">0</text>
<text transform="translate(1211,2650) rotate(-23)">3</text>
<text transform="translate(1298,2650) rotate(-23)">6</text>
<text transform="translate(1386,2650) rotate(-23)">9</text>
</g>
<text x="1116" y="2698" font-size="26" text-anchor="middle">Anomalies</text>
<text x="1408" y="2698" font-size="26" text-anchor="end">1e−5</text>
</svg>
</body></html>
